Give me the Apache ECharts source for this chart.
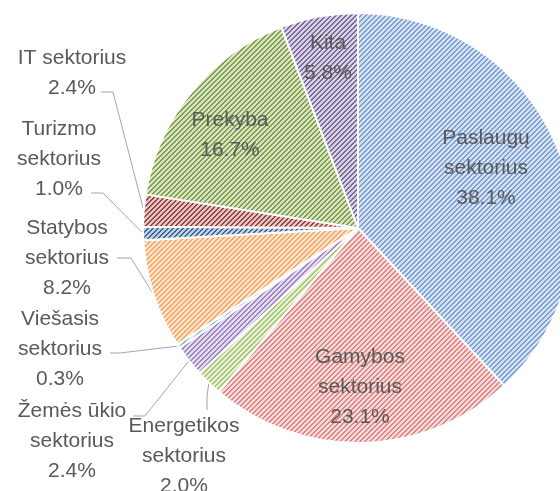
<!DOCTYPE html>
<html>
<head>
<meta charset="utf-8">
<script src="https://cdn.jsdelivr.net/npm/echarts@6/dist/echarts.min.js"></script>
<style>
html,body{margin:0;padding:0;background:#fff;}
#chart{width:560px;height:491px;}
</style>
</head>
<body>
<div id="chart"></div>
<script>
// ---- data ----
var categories = ['Paslaugų sektorius','Gamybos sektorius','Energetikos sektorius','Žemės ūkio sektorius','Viešasis sektorius','Statybos sektorius','Turizmo sektorius','IT sektorius','Prekyba','Kita'];
var shares = [38.1, 23.1, 2.0, 2.4, 0.3, 8.2, 1.0, 2.4, 16.7, 5.8];

// ---- styles ----
var stripeColors = ['#7a9fd3','#dc8785','#a6c46b','#9b84bf','#6cbfd5','#f8a663','#3c6696','#98423f','#7f9c4a','#7a6898'];
var bgColors     = ['#d5e1f2','#f6d9d8','#e7f0d8','#e3dcef','#d8eef4','#fee4ce','#c2cfe0','#e3c4c3','#d7e4c2','#d8d1e4'];

function makeTile(fg, bg) {
  var p = 5, c = document.createElement('canvas');
  c.width = p; c.height = p;
  var ctx = c.getContext('2d');
  ctx.fillStyle = bg; ctx.fillRect(0, 0, p, p);
  ctx.fillStyle = fg;
  for (var x = 0; x < p; x++) for (var y = 0; y < p; y++) {
    if ((x + y) % p < 2) ctx.fillRect(x, y, 1, 1);
  }
  return c;
}

// label placement (layout only): centre of label box, and for outside labels the
// bend / end points of the leader line
var labelPlace = [
  {x: 486, y: 168},
  {x: 360, y: 387},
  {x: 184, y: 456, bend: [207, 396], end: [207, 410]},
  {x: 72,  y: 441, bend: [145, 416], end: [133, 416]},
  {x: 60,  y: 349, bend: [120, 353], end: [110, 353]},
  {x: 67,  y: 258, bend: [131, 258], end: [117, 258]},
  {x: 59,  y: 159, bend: [103, 193], end: [91, 193]},
  {x: 72,  y: 73,  bend: [113, 92],  end: [101, 92]},
  {x: 230, y: 135},
  {x: 328, y: 58}
];
var outside = [false,false,true,true,true,true,true,true,false,false];

function labelText(name) {
  if (name.length > 12) {
    var i = name.lastIndexOf(' ');
    return name.slice(0, i) + '\n' + name.slice(i + 1);
  }
  return name;
}

var data = categories.map(function (n, i) {
  return {
    name: n,
    value: shares[i],
    itemStyle: { color: { image: makeTile(stripeColors[i], bgColors[i]), repeat: 'repeat' } },
    label: { position: outside[i] ? 'outside' : 'inside' },
    labelLine: { show: outside[i] }
  };
});

var chart = echarts.init(document.getElementById('chart'), null, {renderer: 'canvas'});
chart.setOption({
  animation: false,
  backgroundColor: '#ffffff',
  series: [{
    type: 'pie',
    center: [358, 228],
    radius: 215,
    startAngle: 90,
    clockwise: true,
    avoidLabelOverlap: false,
    data: data,
    itemStyle: { borderColor: '#ffffff', borderWidth: 2 },
    label: {
      show: true,
      color: '#595959',
      fontFamily: 'Liberation Sans',
      fontSize: 21,
      lineHeight: 30,
      align: 'center',
      formatter: function (p) { return labelText(p.name) + '\n' + p.value.toFixed(1) + '%'; }
    },
    labelLine: { lineStyle: { color: '#a6a6a6', width: 1 }, smooth: false },
    emphasis: { disabled: true },
    labelLayout: function (params) {
      var lp = labelPlace[params.dataIndex];
      var res = { x: lp.x, y: lp.y, align: 'center', verticalAlign: 'middle' };
      if (lp.bend && params.labelLinePoints) {
        res.labelLinePoints = [params.labelLinePoints[0], lp.bend, lp.end];
      }
      return res;
    }
  }]
});
</script>
</body>
</html>
